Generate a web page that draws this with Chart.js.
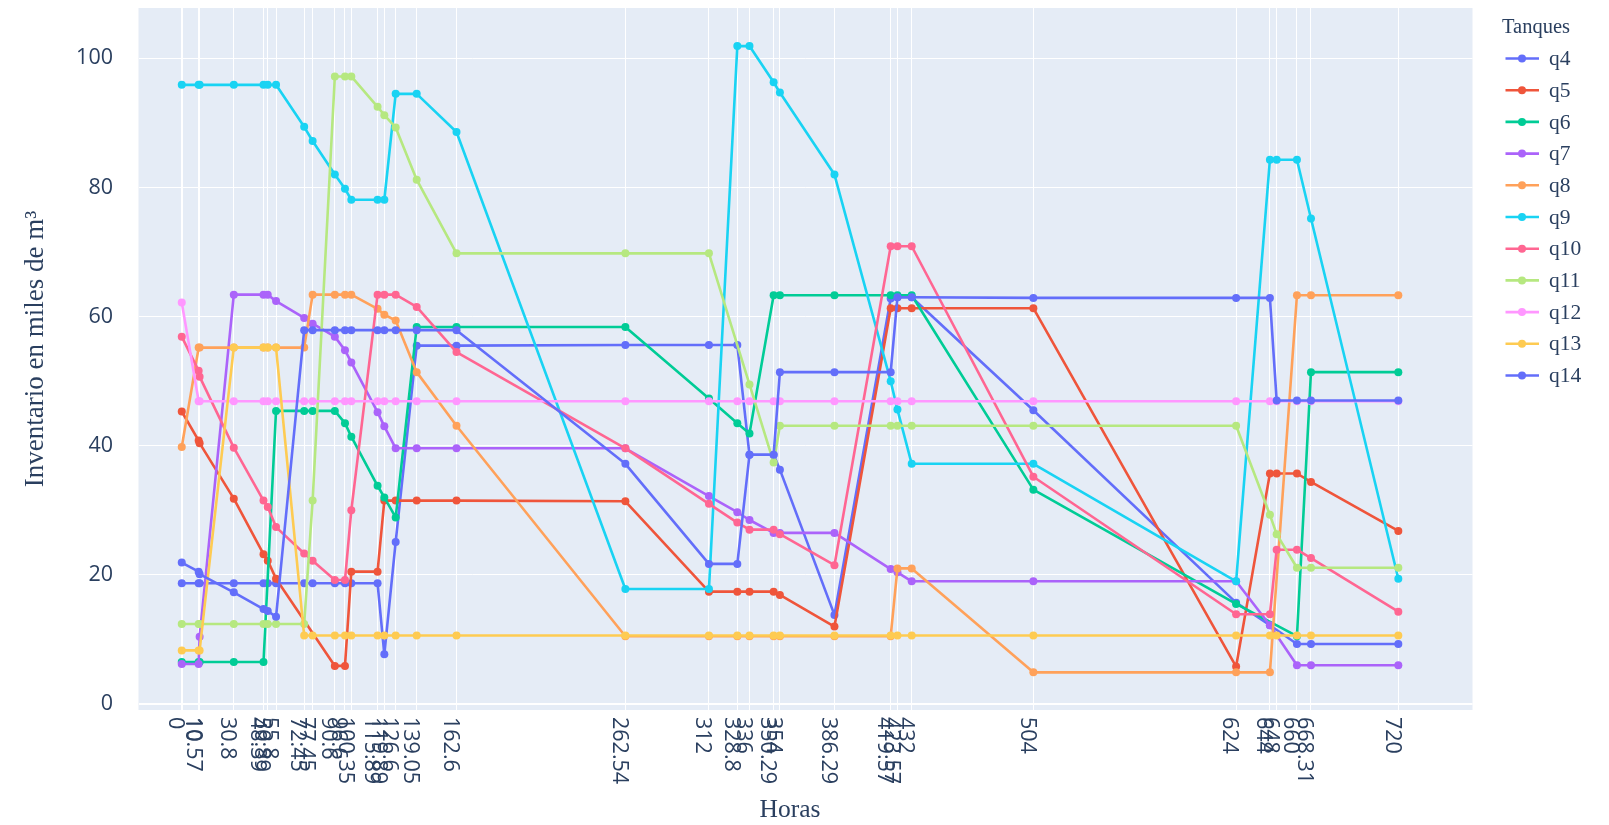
<!DOCTYPE html>
<html>
<head>
<meta charset="utf-8">
<title>Inventario por tanque</title>
<script src="https://cdn.jsdelivr.net/npm/chart.js@4.4.1/dist/chart.umd.min.js"></script>
<style>
  html, body { margin: 0; padding: 0; background: #ffffff; overflow: hidden; }
  #wrap { width: 1609px; height: 825px; }
</style>
</head>
<body>
<div id="wrap"><canvas id="chart" width="1609" height="825"></canvas></div>
<script>
// Hours at which inventories were recorded (also the x-axis ticks)
const hours = [0, 10, 10.57, 30.8, 48.39, 50.89, 55.8, 72.45, 77.45, 90.6, 96.6, 100.35,
  115.89, 119.89, 126.6, 139.05, 162.6, 262.54, 312, 328.8, 336, 350.29, 354, 386.29,
  419.57, 423.57, 432, 504, 624, 644, 648, 660, 668.31, 720];
const hourLabels = ['0', '10', '10.57', '30.8', '48.39', '50.89', '55.8', '72.45', '77.45', '90.6', '96.6', '100.35',
  '115.89', '119.89', '126.6', '139.05', '162.6', '262.54', '312', '328.8', '336', '350.29', '354', '386.29',
  '419.57', '423.57', '432', '504', '624', '644', '648', '660', '668.31', '720'];
const inventoryTicks = [0, 20, 40, 60, 80, 100];

// Inventory per tank, thousands of m3 (null = no record at that hour)
const q4 = [18.7, 18.7, 18.7, 18.7, 18.7, 18.7, 18.7, 18.7, 18.7, 18.7, 18.7, 18.7,
  18.7, 7.7, 25.1, 55.5, 55.5, 55.6, 55.6, 55.6, 38.6, 38.6, 36.3, 13.8,
  62.8, 63.0, 63.0, 45.5, 15.7, 12.2, null, 9.3, 9.3, 9.3];
const q5 = [45.3, 40.8, 40.4, 31.8, 23.2, 22.2, 19.4, null, null, 5.9, 5.9, 20.5,
  20.5, 31.5, 31.5, 31.5, 31.5, 31.4, 17.4, 17.4, 17.4, 17.4, 16.9, 12.0,
  61.3, 61.3, 61.3, 61.3, 5.8, 35.7, 35.7, 35.7, 34.4, 26.8];
const q6 = [6.5, 6.5, 6.5, 6.5, 6.5, null, 45.4, 45.4, 45.4, 45.4, 43.5, 41.4,
  33.8, 32.0, 28.9, 58.4, 58.4, 58.4, 47.3, 43.5, 41.9, 63.3, 63.3, 63.3,
  63.3, 63.3, 63.3, 33.2, 15.5, null, null, 10.5, 51.4, 51.4];
const q7 = [6.2, 6.2, 10.4, 63.4, 63.4, 63.4, 62.4, 59.8, 58.9, 56.9, 54.8, 52.9,
  45.2, 43.0, 39.6, 39.6, 39.6, 39.6, 32.2, 29.7, 28.5, 26.5, 26.5, 26.5,
  20.9, 20.4, 19.0, 19.0, 19.0, 12.2, null, 6.0, 6.0, 6.0];
const q8 = [39.8, 55.2, 55.2, 55.2, 55.2, 55.2, 55.2, 55.2, 63.4, 63.4, 63.4, 63.4,
  61.2, 60.3, 59.4, 51.4, 43.1, 10.5, 10.5, 10.5, 10.5, 10.5, 10.5, 10.5,
  10.5, 21.0, 21.0, 4.9, 4.9, 4.9, null, 63.3, 63.3, 63.3];
const q9 = [95.9, 95.9, 95.9, 95.9, 95.9, 95.9, 95.9, 89.4, 87.2, 82.0, 79.8, 78.1,
  78.1, 78.1, 94.5, 94.5, 88.6, 17.8, 17.8, 101.9, 101.9, 96.3, 94.7, 82.0,
  50.0, 45.6, 37.2, 37.2, 19.0, 84.3, 84.3, 84.3, 75.2, 19.4];
const q10 = [56.9, 51.6, 50.7, 39.7, 31.5, 30.5, 27.4, 23.3, 22.2, 19.2, 19.2, 30.0,
  63.4, 63.4, 63.4, 61.5, 54.5, 39.6, 31.0, 28.1, 27.0, 27.0, 26.3, 21.5,
  70.9, 70.9, 70.9, 35.2, 13.9, 13.9, 23.9, 23.9, 22.6, 14.3];
const q11 = [12.4, 12.4, 12.4, 12.4, 12.4, 12.4, 12.4, 12.4, 31.5, 97.2, 97.2, 97.2,
  92.5, 91.2, 89.3, 81.2, 69.8, 69.8, 69.8, null, 49.5, 37.4, 43.1, 43.1,
  43.1, 43.1, 43.1, 43.1, 43.1, 29.3, 26.3, 21.1, 21.1, 21.1];
const q12 = [62.2, 46.9, 46.9, 46.9, 46.9, 46.9, 46.9, 46.9, 46.9, 46.9, 46.9, 46.9,
  46.9, 46.9, 46.9, 46.9, 46.9, 46.9, 46.9, 46.9, 46.9, 46.9, 46.9, 46.9,
  46.9, 46.9, 46.9, 46.9, 46.9, 46.9, 46.9, 46.9, 46.9, 46.9];
const q13 = [8.3, 8.3, 8.3, 55.2, 55.2, 55.2, 55.2, 10.6, 10.6, 10.6, 10.6, 10.6,
  10.6, 10.6, 10.6, 10.6, 10.6, 10.6, 10.6, 10.6, 10.6, 10.6, 10.6, 10.6,
  10.6, 10.6, 10.6, 10.6, 10.6, 10.6, 10.6, 10.6, 10.6, 10.6];
const q14 = [21.9, 20.5, 20.1, 17.3, 14.7, 14.4, 13.5, 57.9, 57.9, 57.9, 57.9, 57.9,
  57.9, 57.9, 57.9, 57.9, 57.9, 37.2, 21.7, 21.7, 38.6, 38.6, 51.4, 51.4,
  51.4, 63.0, 63.0, 62.9, 62.9, 62.9, 47.0, 47.0, 47.0, 47.0];

const tankNames = ['q4', 'q5', 'q6', 'q7', 'q8', 'q9', 'q10', 'q11', 'q12', 'q13', 'q14'];
const tankValues = [q4, q5, q6, q7, q8, q9, q10, q11, q12, q13, q14];
const tankColors = ['#636efa', '#EF553B', '#00cc96', '#ab63fa', '#FFA15A', '#19d3f3',
  '#FF6692', '#B6E880', '#FF97FF', '#FECB52', '#636efa'];

const textColor = '#2a3f5f';
const sansFont = '"Open Sans", "Liberation Sans", sans-serif';
const serifFont = '"Liberation Serif", "Times New Roman", serif';
const tickSize = 21.5;
const lineW = 2.6;
const dotR = 4;

const datasets = tankNames.map((name, i) => ({
  label: name,
  data: hours.map((h, j) => ({ x: h, y: tankValues[i][j] })).filter(p => p.y !== null),
  borderColor: tankColors[i],
  backgroundColor: tankColors[i],
  borderWidth: lineW,
  borderJoinStyle: 'round',
  pointRadius: dotR,
  pointHoverRadius: dotR,
  pointBorderWidth: 0,
  tension: 0,
  fill: false,
  // later tanks are painted over earlier ones
  order: tankNames.length - i
}));

const decorations = {
  id: 'decorations',
  beforeDraw(chart) {
    const { ctx, chartArea: a } = chart;
    ctx.save();
    ctx.fillStyle = '#ffffff';
    ctx.fillRect(0, 0, chart.width, chart.height);
    ctx.fillStyle = '#E5ECF6';
    ctx.fillRect(a.left, a.top, a.right - a.left, a.bottom - a.top);
    ctx.restore();
  },
  afterDraw(chart) {
    const { ctx } = chart;
    const xs = chart.scales.x, ys = chart.scales.y;
    ctx.save();
    ctx.fillStyle = textColor;

    // y tick labels
    ctx.font = tickSize + 'px ' + sansFont;
    ctx.textAlign = 'right';
    ctx.textBaseline = 'middle';
    inventoryTicks.forEach(v => ctx.fillText(String(v), 113, ys.getPixelForValue(v)));

    // x tick labels, turned to read downwards
    ctx.textAlign = 'left';
    ctx.textBaseline = 'alphabetic';
    const shift = 5 + 0.357 * tickSize;
    hours.forEach((h, i) => {
      const px = xs.getPixelForValue(h);
      ctx.save();
      ctx.translate(px, 717);
      ctx.rotate(Math.PI / 2);
      ctx.fillText(hourLabels[i], 0, shift);
      ctx.restore();
    });

    // axis titles
    ctx.textAlign = 'center';
    ctx.textBaseline = 'middle';
    ctx.font = '25.5px ' + serifFont;
    ctx.fillText('Horas', 790, 810);
    ctx.font = '27px ' + serifFont;
    ctx.save();
    ctx.translate(36, 349);
    ctx.rotate(-Math.PI / 2);
    ctx.fillText('Inventario en miles de m\u00B3', 0, 0);
    ctx.restore();

    // legend
    ctx.textAlign = 'left';
    ctx.font = '20.5px ' + serifFont;
    ctx.fillText('Tanques', 1502, 28);
    ctx.font = '21.5px ' + serifFont;
    tankNames.forEach((name, i) => {
      const y = 58.5 + i * 31.7;
      ctx.strokeStyle = tankColors[i];
      ctx.lineWidth = lineW;
      ctx.beginPath();
      ctx.moveTo(1505.5, y);
      ctx.lineTo(1539, y);
      ctx.stroke();
      ctx.fillStyle = tankColors[i];
      ctx.beginPath();
      ctx.arc(1522, y, dotR, 0, Math.PI * 2);
      ctx.fill();
      ctx.fillStyle = textColor;
      ctx.fillText(name, 1549, y + 1);
    });
    ctx.restore();
  }
};

new Chart(document.getElementById('chart'), {
  type: 'line',
  data: { datasets },
  options: {
    responsive: false,
    devicePixelRatio: 1,
    animation: false,
    events: [],
    layout: { padding: { left: 138.5, right: 136.5, top: 8, bottom: 115 } },
    plugins: { legend: { display: false }, tooltip: { enabled: false } },
    scales: {
      x: {
        type: 'linear',
        min: -25.6,
        max: 763.9,
        afterBuildTicks: s => { s.ticks = hours.map(v => ({ value: v })); },
        afterFit: s => { s.height = 0; },
        ticks: { display: false, autoSkip: false },
        grid: {
          color: '#ffffff',
          lineWidth: c => (c.tick && c.tick.value === 0 ? 2 : 1),
          drawTicks: false
        },
        border: { display: false }
      },
      y: {
        type: 'linear',
        min: -0.93,
        max: 107.8,
        afterBuildTicks: s => { s.ticks = inventoryTicks.map(v => ({ value: v })); },
        afterFit: s => { s.width = 0; },
        ticks: { display: false },
        grid: {
          color: '#ffffff',
          lineWidth: c => (c.tick && c.tick.value === 0 ? 2 : 1),
          drawTicks: false
        },
        border: { display: false }
      }
    }
  },
  plugins: [decorations]
});
</script>
</body>
</html>
